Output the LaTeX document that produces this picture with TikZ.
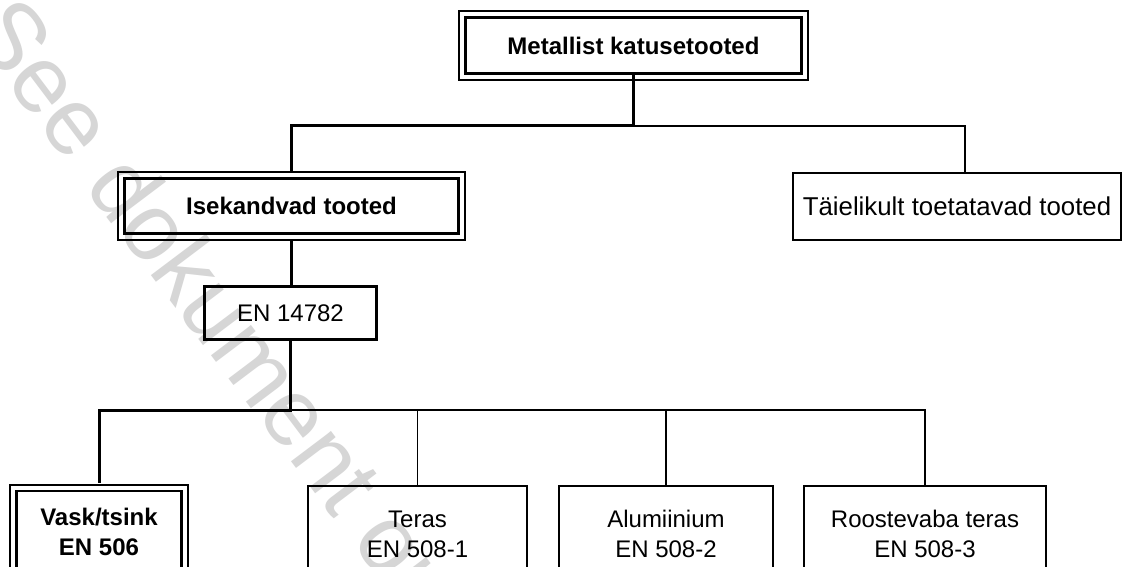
\documentclass[tikz,border=0pt]{standalone}
\usepackage{fontspec}
\setmainfont{Liberation Sans}
\begin{document}
\begin{tikzpicture}[x=1pt,y=-1pt,
  lbl/.style={font=\fontsize{24}{30}\selectfont, align=center, inner sep=0pt},
  thinbox/.style={lbl, draw, line width=1.4pt},
  thickbox/.style={lbl, draw, line width=2.8pt},
  dbox/.style={lbl, draw, line width=2.6pt, font=\fontsize{24}{30}\selectfont\bfseries},
  outerline/.style={line width=1.4pt},
  thk/.style={line width=3pt},
  thn/.style={line width=1.4pt},
  wm/.style={text=black!16, font=\fontsize{95}{95}\selectfont, inner sep=0pt}
]
\useasboundingbox (0,0) rectangle (1125,567);
\clip (0,0) rectangle (1125,567);
\fill[white] (0,0) rectangle (1125,567);
% watermark
\node[wm, anchor=base west, rotate=-53] (wmark) at (-34,30) {See dokument on EVS-i poolt loodud eelvaade};
% bus coordinates
\coordinate (bus1) at (0,126);
\coordinate (bus2) at (0,410);
% outer frames of double boxes
\draw[outerline] (459,11) rectangle (808,80);
\draw[outerline] (118,172) rectangle (465,240);
\draw[outerline] (10,485) rectangle (188,600);
% nodes
\node[dbox, minimum width=336, minimum height=56] (top) at (633.5,45.5) {Metallist katusetooted};
\node[dbox, minimum width=334, minimum height=55] (ise) at (291.5,206) {Isekandvad tooted};
\node[thinbox, minimum width=328, minimum height=67, font=\fontsize{25.8}{30}\selectfont] (tai) at (957,206.5) {Täielikult toetatavad tooted};
\node[thickbox, minimum width=172, minimum height=53] (en) at (290.5,313) {EN 14782};
\node[dbox, minimum width=165, minimum height=82] (vask) at (99,532) {Vask/tsink\\EN 506};
\node[thinbox, minimum width=219, minimum height=96] (ter) at (417.5,534) {Teras\\EN 508-1};
\node[thinbox, minimum width=214, minimum height=96] (alu) at (666,534) {Alumiinium\\EN 508-2};
\node[thinbox, minimum width=242, minimum height=96] (roo) at (925,534) {Roostevaba teras\\EN 508-3};
% thin connectors
\draw[thn] (top.south |- bus1) -| ([xshift=8pt]tai.north);
\draw[thn] (en.south |- bus2) -| (ter.north);
\draw[thn] (en.south |- bus2) -| (alu.north);
\draw[thn] (en.south |- bus2) -| (roo.north);
% thick connectors
\draw[thk] (top.south) -- (top.south |- bus1) -| ([yshift=6.5pt]ise.north);
\draw[thk] ([yshift=-6.5pt]ise.south) -- (ise.south |- en.north);
\draw[thk] (en.south) -- (en.south |- bus2) -| ([yshift=6.5pt]vask.north);
\end{tikzpicture}
\end{document}
